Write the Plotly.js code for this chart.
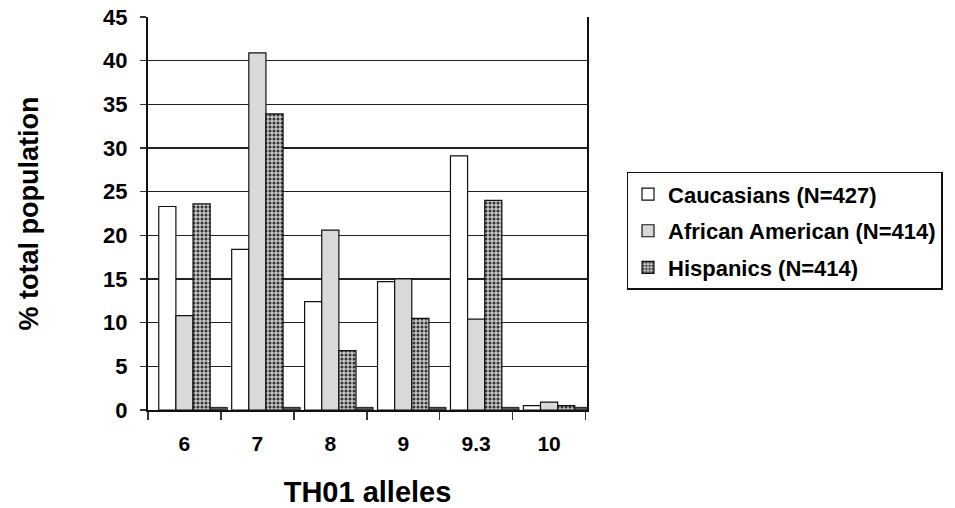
<!DOCTYPE html>
<html>
<head>
<meta charset="utf-8">
<script src="https://cdn.plot.ly/plotly-3.0.1.min.js"></script>
<style>html,body{margin:0;padding:0;background:#fff;}#chart{width:955px;height:508px;}</style>
</head>
<body>
<div id="chart"></div>
<script>
var alleles = ["6", "7", "8", "9", "9.3", "10"];
var caucasians = [23.3, 18.4, 12.4, 14.7, 29.1, 0.5];
var africanAmerican = [10.8, 40.9, 20.6, 15.0, 10.4, 0.9];
var hispanics = [23.6, 33.9, 6.8, 10.5, 24.0, 0.5];
var floorDepth = [0.3, 0.3, 0.3, 0.3, 0.3, 0.3];
var seriesNames = ["Caucasians (N=427)", "African American (N=414)", "Hispanics (N=414)"];

var FONT = "Liberation Sans, Arial, Helvetica, sans-serif";
var W = 0.235;
var lineStyle = {color: "#111", width: 1.2};

var traces = [
  {type: "bar", x: alleles, y: caucasians, name: seriesNames[0], width: W, offset: -1.5 * W,
   marker: {color: "#ffffff", line: lineStyle}, legendgroup: "a"},
  {type: "bar", x: alleles, y: africanAmerican, name: seriesNames[1], width: W, offset: -0.5 * W,
   marker: {color: "#d9d9d9", line: lineStyle}, legendgroup: "b"},
  {type: "bar", x: alleles, y: hispanics, name: seriesNames[2], width: W, offset: 0.5 * W,
   marker: {color: "#bdbdbd", line: lineStyle,
            pattern: {shape: ".", fgcolor: "#333333", bgcolor: "#c8c8c8", size: 4, solidity: 0.45}},
   legendgroup: "c"},
  {type: "bar", x: alleles, y: floorDepth, name: "", width: W, offset: 1.5 * W,
   marker: {color: "#555555", line: {color: "#222", width: 1}}, showlegend: false, hoverinfo: "skip"}
];

var layout = {
  width: 955, height: 508,
  margin: {l: 148, r: 365, t: 17, b: 98},
  paper_bgcolor: "#ffffff", plot_bgcolor: "#ffffff",
  barmode: "overlay",
  font: {family: FONT, color: "#000"},
  showlegend: true,
  legend: {
    x: 1.09, y: 0.606, xanchor: "left", yanchor: "top",
    bordercolor: "#111", borderwidth: 1.5, bgcolor: "#fff",
    font: {family: FONT, size: 22, weight: "bold", color: "#000"},
    traceorder: "grouped", tracegroupgap: 5, itemwidth: 30
  },
  xaxis: {
    type: "category", range: [-0.5, 5.52],
    tickson: "boundaries", ticks: "outside", ticklen: 8, tickcolor: "#333", tickwidth: 1.5,
    showline: true, linecolor: "#111", linewidth: 2, mirror: false,
    showgrid: false, zeroline: false,
    ticklabelstandoff: 14,
    tickfont: {family: FONT, size: 21, weight: "bold"},
    title: {text: "TH01 alleles", font: {family: FONT, size: 29, weight: "bold"}, standoff: 30}
  },
  yaxis: {
    range: [0, 45], dtick: 5, tick0: 0,
    ticks: "outside", ticklen: 6, tickcolor: "#333", tickwidth: 1.5,
    showline: true, linecolor: "#111", linewidth: 2, mirror: true,
    showgrid: true, gridcolor: "#222", gridwidth: 1.5, zeroline: false,
    ticklabelstandoff: 8,
    tickfont: {family: FONT, size: 22, weight: "bold"},
    title: {text: "% total population", font: {family: FONT, size: 27, weight: "bold"}, standoff: 57}
  }
};

Plotly.newPlot("chart", traces, layout, {displayModeBar: false, staticPlot: true});
</script>
</body>
</html>
